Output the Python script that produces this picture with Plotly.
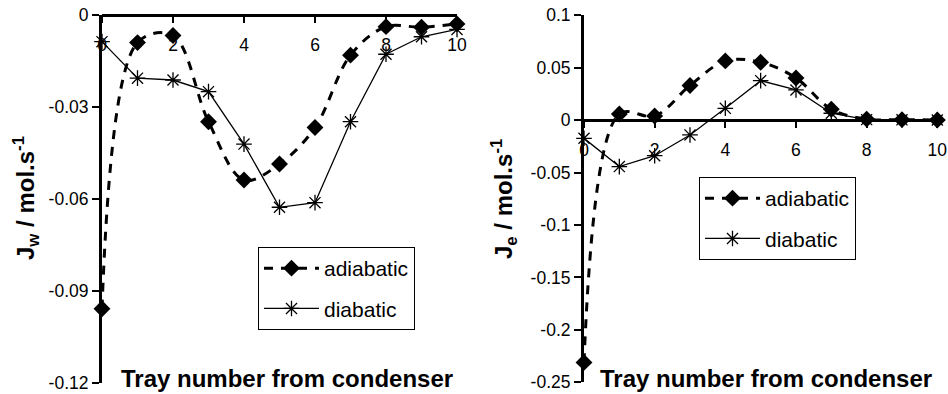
import plotly.graph_objects as go

trays = [0, 1, 2, 3, 4, 5, 6, 7, 8, 9, 10]
jw_adiabatic = [-0.0957, -0.0089, -0.0066, -0.0347, -0.0537, -0.0485, -0.0366, -0.0130, -0.0037, -0.0039, -0.0028]
jw_diabatic = [-0.0086, -0.0205, -0.0211, -0.0249, -0.0420, -0.0626, -0.0611, -0.0347, -0.0127, -0.0070, -0.0046]
je_adiabatic = [-0.231, 0.0059, 0.0040, 0.0330, 0.0565, 0.0552, 0.0402, 0.0104, 0.0010, 0.0005, 0.0002]
je_diabatic = [-0.0173, -0.0443, -0.0339, -0.0141, 0.0113, 0.0377, 0.0288, 0.0066, 0.0005, 0.0003, 0.0001]

x_ticks = [0, 2, 4, 6, 8, 10]
jw_ticks = [0, -0.03, -0.06, -0.09, -0.12]
jw_ticktext = ["0", "-0.03", "-0.06", "-0.09", "-0.12"]
je_ticks = [0.1, 0.05, 0, -0.05, -0.1, -0.15, -0.2, -0.25]
je_ticktext = ["0.1", "0.05", "0", "-0.05", "-0.1", "-0.15", "-0.2", "-0.25"]

jw_range = [-0.12, 0]
je_range = [-0.25, 0.1]

FONT = "Liberation Sans, Arial, sans-serif"
W, H = 948, 394

# domains (paper fractions)
xd1 = [102 / W, 457 / W]
yd1 = [1 - 383.3 / H, 1 - 15.3 / H]
xd2 = [584 / W, 937.3 / W]
yd2 = [1 - 382.3 / H, 1 - 15.3 / H]

fig = go.Figure()

def add_pair(xa, ya, ad, di, legend):
    fig.add_trace(go.Scatter(
        x=trays, y=ad, name="adiabatic", xaxis=xa, yaxis=ya, legend=legend,
        legendgroup="a", mode="lines+markers", cliponaxis=False,
        line=dict(color="black", width=3, dash="9px,8px", shape="spline", smoothing=1),
        marker=dict(symbol="diamond", size=13, color="black"),
    ))
    fig.add_trace(go.Scatter(
        x=trays, y=di, name="diabatic", xaxis=xa, yaxis=ya, legend=legend,
        legendgroup="d", mode="lines+markers", cliponaxis=False,
        line=dict(color="black", width=1.3),
        marker=dict(symbol="asterisk-open", size=13, color="black", line=dict(width=1.3, color="black")),
    ))

add_pair("x", "y", jw_adiabatic, jw_diabatic, "legend")
add_pair("x2", "y2", je_adiabatic, je_diabatic, "legend2")

axis_common = dict(
    showgrid=False, zeroline=False, showline=True, linecolor="black", linewidth=3,
    ticks="outside", tickcolor="black", tickwidth=2,
    tickfont=dict(family=FONT, size=17.5, color="black"), automargin=False,
)

# position of x axis at y=0
pos1 = yd1[0] + (0 - jw_range[0]) / (jw_range[1] - jw_range[0]) * (yd1[1] - yd1[0])
pos2 = yd2[0] + (0 - je_range[0]) / (je_range[1] - je_range[0]) * (yd2[1] - yd2[0])

legend_common = dict(xanchor="left", yanchor="top",
                     bordercolor="black", borderwidth=1, bgcolor="white",
                     font=dict(family=FONT, size=21, color="black"),
                     traceorder="grouped", tracegroupgap=10, itemwidth=55)

fig.update_layout(
    width=W, height=H, margin=dict(l=0, r=0, t=0, b=0),
    paper_bgcolor="white", plot_bgcolor="white",
    font=dict(family=FONT, color="black"),
    xaxis=dict(**axis_common, domain=xd1, range=[0, 10], tickvals=x_ticks, anchor="free",
               position=pos1, side="bottom", ticklen=6, ticklabelstandoff=7),
    yaxis=dict(**axis_common, domain=yd1, range=jw_range, tickvals=jw_ticks, ticktext=jw_ticktext,
               anchor="x", ticklen=7, ticklabelstandoff=0),
    xaxis2=dict(**axis_common, domain=xd2, range=[0, 10], tickvals=x_ticks, anchor="free",
                position=pos2, side="bottom", ticklen=6, ticklabelstandoff=7),
    yaxis2=dict(**axis_common, domain=yd2, range=je_range, tickvals=je_ticks, ticktext=je_ticktext,
                anchor="x2", ticklen=7, ticklabelstandoff=0),
    legend=dict(x=258 / W, y=1 - 247 / H, **legend_common),
    legend2=dict(x=699 / W, y=1 - 177 / H, **legend_common),
    showlegend=True,
)

annots = [
    dict(text="<b>Tray number from condenser</b>", x=287 / W, y=1 - 378 / H, xref="paper", yref="paper",
         showarrow=False, font=dict(family=FONT, size=24, color="black"), xanchor="center", yanchor="middle"),
    dict(text="<b>Tray number from condenser</b>", x=766 / W, y=1 - 378 / H, xref="paper", yref="paper",
         showarrow=False, font=dict(family=FONT, size=24, color="black"), xanchor="center", yanchor="middle"),
    dict(text="<b>J<sub>w</sub> / mol.s<sup>-1</sup></b>", x=26 / W, y=1 - 198 / H, xref="paper", yref="paper",
         showarrow=False, textangle=-90, font=dict(family=FONT, size=24, color="black"),
         xanchor="center", yanchor="middle"),
    dict(text="<b>J<sub>e</sub> / mol.s<sup>-1</sup></b>", x=504 / W, y=1 - 199 / H, xref="paper", yref="paper",
         showarrow=False, textangle=-90, font=dict(family=FONT, size=24, color="black"),
         xanchor="center", yanchor="middle"),
]
fig.update_layout(annotations=annots)

fig.write_html("out.html")
